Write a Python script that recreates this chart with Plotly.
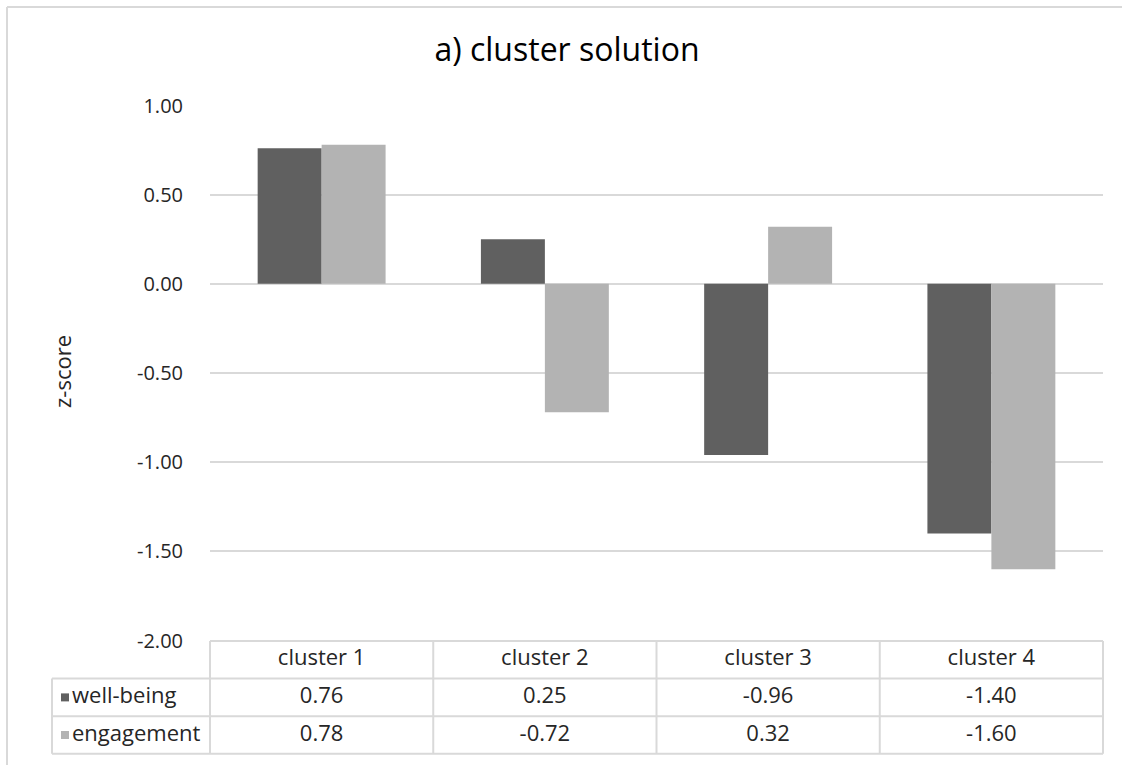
import plotly.graph_objects as go

# ---- data ----
clusters = ["cluster 1", "cluster 2", "cluster 3", "cluster 4"]
well_being = [0.76, 0.25, -0.96, -1.40]
engagement = [0.78, -0.72, 0.32, -1.60]
series_names = ["well-being", "engagement"]
series_colors = ["#606060", "#b3b3b3"]
y_ticks = [1.0, 0.5, 0.0, -0.5, -1.0, -1.5, -2.0]

# ---- page geometry (pixels) ----
W, H = 1122, 765
ML, MR, MT, MB = 40, 12, 100, 6
PL, PR, PT, PB = ML, W - MR, MT, H - MB
BX0, BX1 = 210, 1103          # bar plot area, horizontal
BY0, BY1 = 105.5, 640.5       # bar plot area, vertical
TABLE_TOP = 641.0
ROW_H = 37.6
LEGEND_X0 = 52
GRID = "#d9d9d9"
FONT = "Open Sans"
TEXT = "#262626"
TICK_SIZE = 20
CELL_SIZE = 22

pw, ph = PR - PL, PB - PT
fx = lambda px: (px - PL) / pw
fy = lambda py: (PB - py) / ph
cat_w = (BX1 - BX0) / len(clusters)
px_to_cat = lambda px: -0.5 + (px - BX0) / cat_w
n_rows = 1 + len(series_names)
table_bottom = TABLE_TOP + n_rows * ROW_H
py_to_row = lambda py: (table_bottom - py) / ROW_H

series_values = [well_being, engagement]

fig = go.Figure()

# bars
for name, vals, col in zip(series_names, series_values, series_colors):
    fig.add_trace(go.Bar(
        x=clusters, y=vals, name=name, marker=dict(color=col, line=dict(width=0)),
        xaxis="x", yaxis="y", showlegend=False, hoverinfo="x+y+name"))

# data table: header row
idx = list(range(len(clusters)))
cell_font = dict(size=CELL_SIZE, color=TEXT, family=FONT)
fig.add_trace(go.Scatter(
    x=idx, y=[n_rows - 0.5] * len(clusters), text=clusters, mode="text",
    textposition="middle center", textfont=cell_font,
    xaxis="x2", yaxis="y2", showlegend=False, hoverinfo="skip"))

# data table: one row per series, with its colour key
for r, (name, vals, col) in enumerate(zip(series_names, series_values, series_colors)):
    row_y = n_rows - 1.5 - r
    fig.add_trace(go.Scatter(
        x=idx, y=[row_y] * len(vals), text=[f"{v:.2f}" for v in vals], mode="text",
        textposition="middle center", textfont=cell_font,
        xaxis="x2", yaxis="y2", showlegend=False, hoverinfo="skip"))
    fig.add_trace(go.Scatter(
        x=[px_to_cat(65)], y=[row_y], mode="markers",
        marker=dict(symbol="square", size=8, color=col, line=dict(width=0)),
        xaxis="x2", yaxis="y2", showlegend=False, hoverinfo="skip"))
    fig.add_trace(go.Scatter(
        x=[px_to_cat(72)], y=[row_y], text=[name], mode="text",
        textposition="middle right", textfont=cell_font,
        xaxis="x2", yaxis="y2", showlegend=False, hoverinfo="skip"))

# table grid lines
shapes = []
leg_left = px_to_cat(LEGEND_X0)
line = dict(color=GRID, width=2)
shapes.append(dict(type="line", xref="x2", yref="y2", x0=-0.5, x1=len(clusters) - 0.5,
                   y0=n_rows, y1=n_rows, line=line))
for k in range(n_rows):
    shapes.append(dict(type="line", xref="x2", yref="y2", x0=leg_left, x1=len(clusters) - 0.5,
                       y0=k, y1=k, line=line))
shapes.append(dict(type="line", xref="x2", yref="y2", x0=leg_left, x1=leg_left,
                   y0=0, y1=n_rows - 1, line=line))
for c in range(len(clusters) + 1):
    shapes.append(dict(type="line", xref="x2", yref="y2", x0=c - 0.5, x1=c - 0.5,
                       y0=0, y1=n_rows, line=line))
# chart frame (top and left edges)
frame = dict(color=GRID, width=2)
shapes.append(dict(type="line", xref="paper", yref="paper", x0=fx(7), x1=fx(W),
                   y0=fy(7), y1=fy(7), line=frame))
shapes.append(dict(type="line", xref="paper", yref="paper", x0=fx(7), x1=fx(7),
                   y0=fy(7), y1=fy(H), line=frame))

fig.update_layout(
    template="none",
    width=W, height=H,
    margin=dict(l=ML, r=MR, t=MT, b=MB, autoexpand=False),
    paper_bgcolor="white", plot_bgcolor="rgba(0,0,0,0)",
    font=dict(family=FONT, size=TICK_SIZE, color=TEXT),
    barmode="group", bargap=0.427, bargroupgap=0,
    title=dict(text="a) cluster solution", x=567 / W, xanchor="center",
               y=1 - 50 / H, yanchor="middle", font=dict(size=32, color="#000000", family=FONT)),
    xaxis=dict(domain=[fx(BX0), fx(BX1)], type="category", range=[-0.5, len(clusters) - 0.5],
               showticklabels=False, showgrid=False, zeroline=False, showline=False, ticks="",
               automargin=False),
    yaxis=dict(domain=[fy(BY1), fy(BY0)], range=[-2, 1], tickvals=y_ticks,
               ticktext=[f"{v:.2f}" for v in y_ticks],
               showgrid=True, gridcolor=GRID, gridwidth=2, zeroline=False,
               showline=False, ticks="", ticklabelstandoff=26, automargin=False,
               tickfont=dict(size=TICK_SIZE, color=TEXT, family=FONT)),
    xaxis2=dict(domain=[0, 1], range=[px_to_cat(PL), px_to_cat(PR)], anchor="y2",
                visible=False, automargin=False),
    yaxis2=dict(domain=[0, fy(TABLE_TOP - 6)], range=[py_to_row(PB), py_to_row(TABLE_TOP - 6)],
                anchor="x2", visible=False, automargin=False),
    shapes=shapes,
    annotations=[dict(text="z-score", xref="paper", yref="paper", x=fx(62), y=fy(372),
                      textangle=-90, showarrow=False, xanchor="center", yanchor="middle",
                      font=dict(size=22, color=TEXT, family=FONT))],
)

fig.write_html("out.html")
